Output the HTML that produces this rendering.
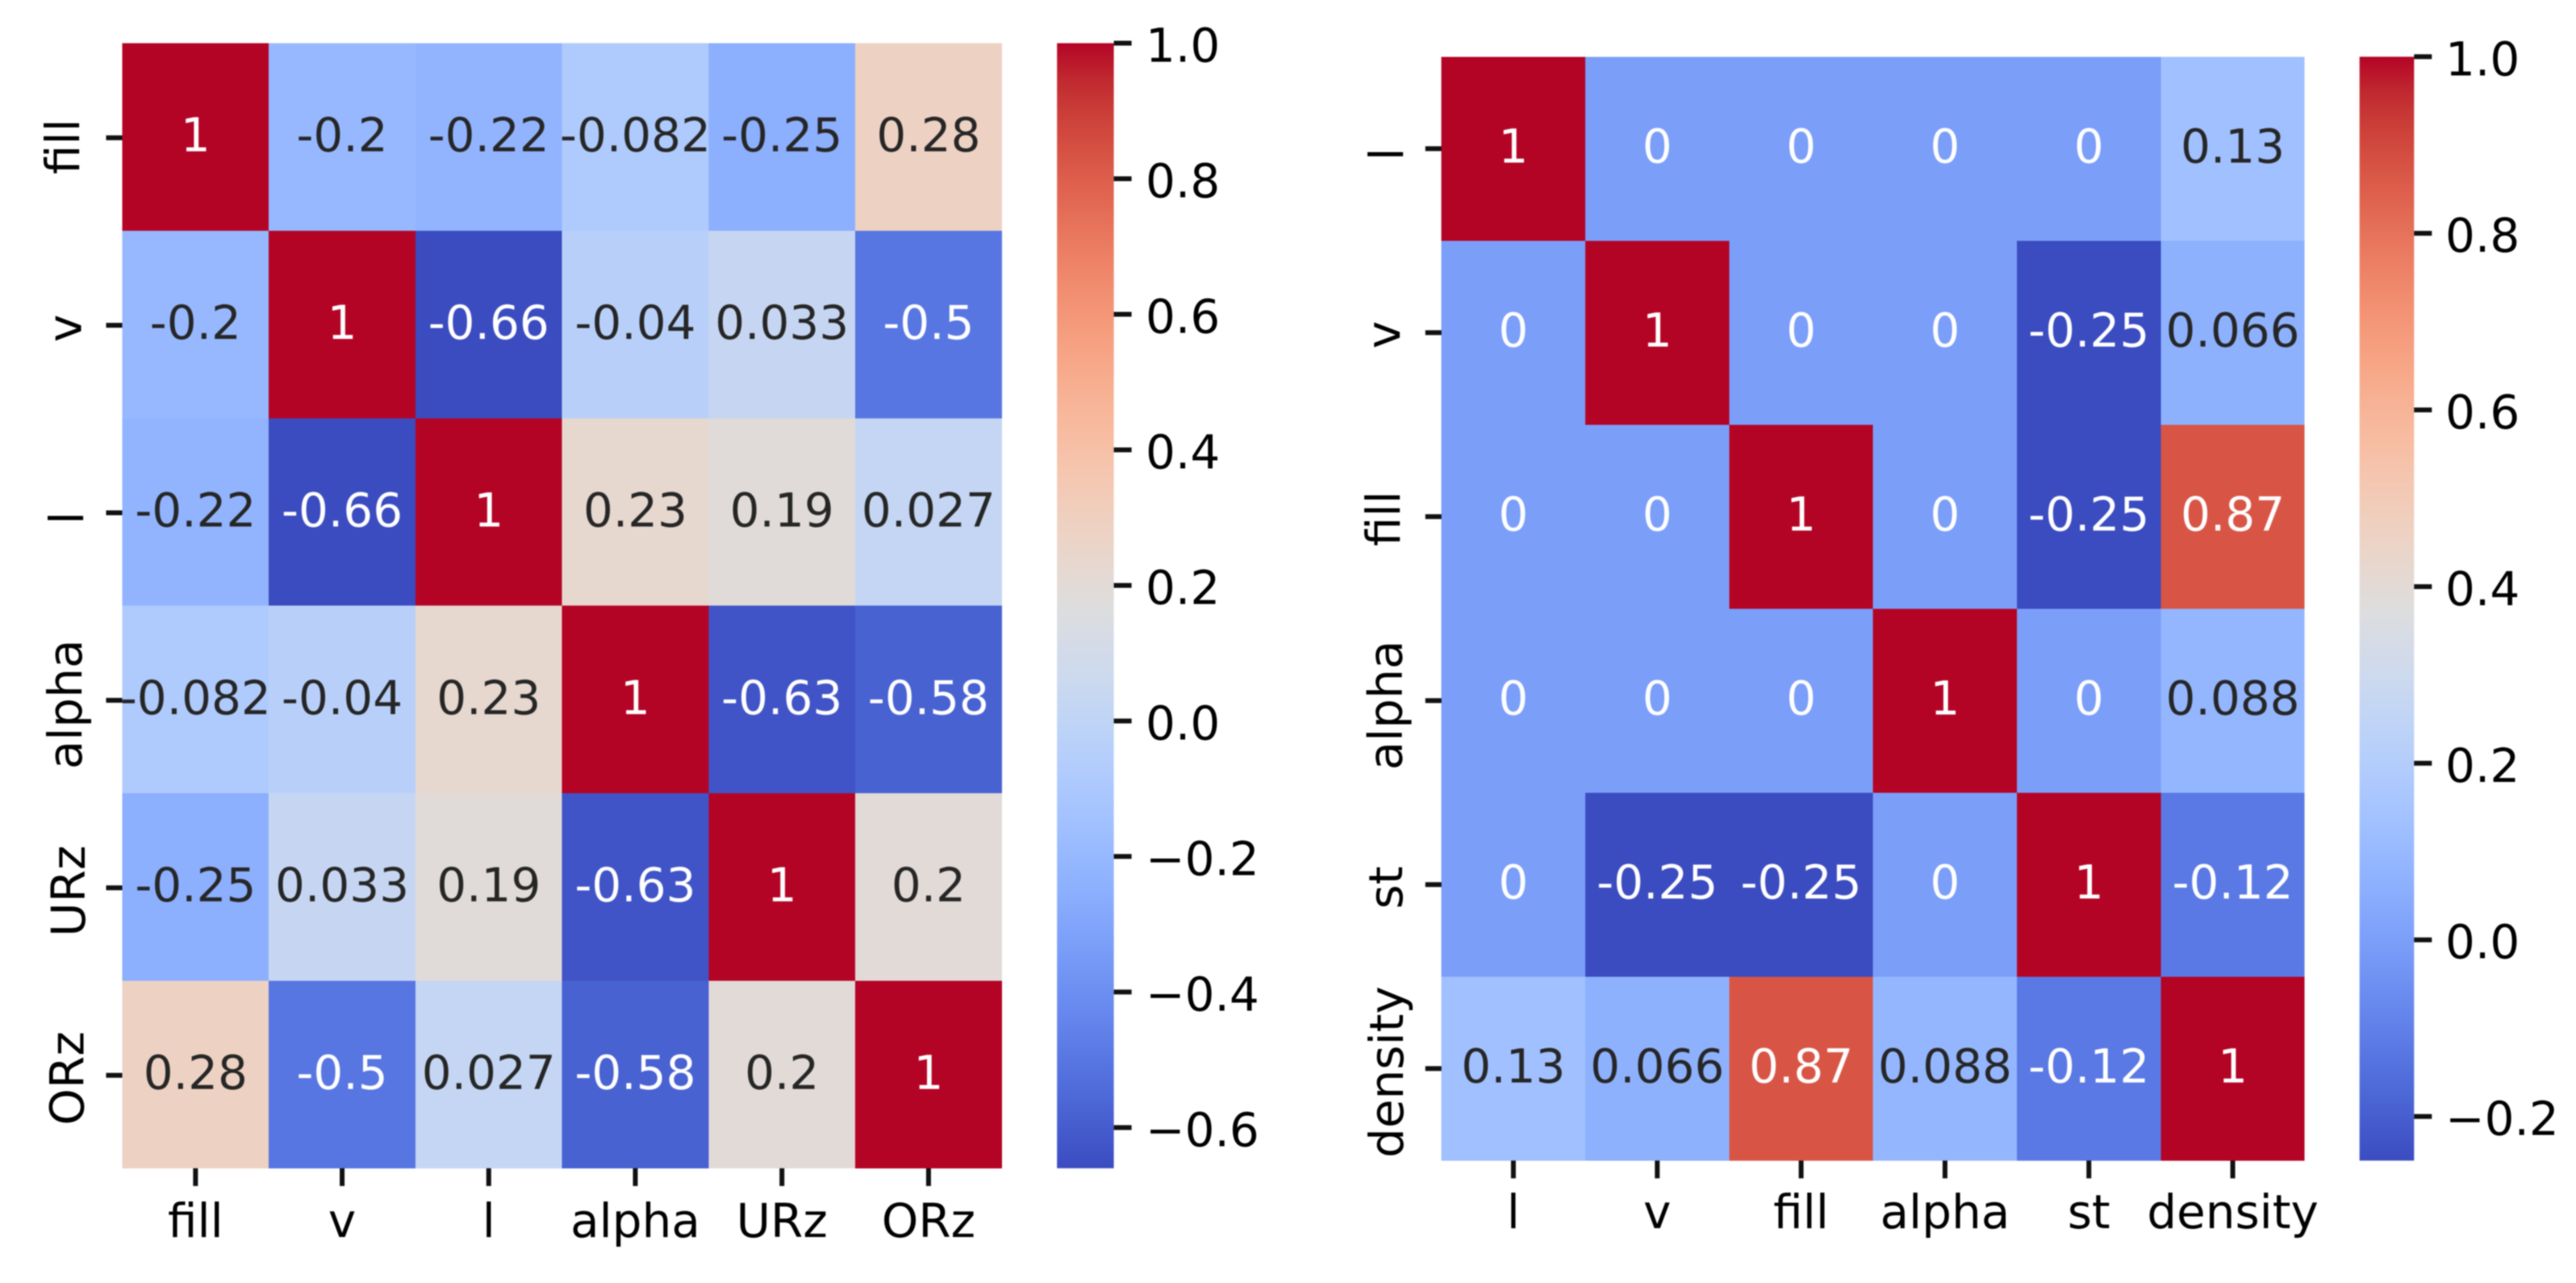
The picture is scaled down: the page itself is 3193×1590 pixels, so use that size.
<!DOCTYPE html>
<html lang="en">
<head>
<meta charset="utf-8">
<title>Correlation heatmaps</title>
<style>
html,body{margin:0;padding:0;background:#fff;width:3193px;height:1590px;overflow:hidden}
svg{display:block;filter:blur(0.8px)}
text{font-family:"DejaVu Sans","Liberation Sans",sans-serif;font-size:58px}
</style>
</head>
<body>
<svg id="figure" xmlns="http://www.w3.org/2000/svg" width="3193" height="1590" viewBox="0 0 3193 1590"></svg>
<script>
const leftLabels = ['fill', 'v', 'l', 'alpha', 'URz', 'ORz'];
const leftValues = [
  [1, -0.2, -0.22, -0.082, -0.25, 0.28],
  [-0.2, 1, -0.66, -0.04, 0.033, -0.5],
  [-0.22, -0.66, 1, 0.23, 0.19, 0.027],
  [-0.082, -0.04, 0.23, 1, -0.63, -0.58],
  [-0.25, 0.033, 0.19, -0.63, 1, 0.2],
  [0.28, -0.5, 0.027, -0.58, 0.2, 1]
];
const leftTicks = [1.0, 0.8, 0.6, 0.4, 0.2, 0.0, -0.2, -0.4, -0.6];

const rightLabels = ['l', 'v', 'fill', 'alpha', 'st', 'density'];
const rightValues = [
  [1, 0, 0, 0, 0, 0.13],
  [0, 1, 0, 0, -0.25, 0.066],
  [0, 0, 1, 0, -0.25, 0.87],
  [0, 0, 0, 1, 0, 0.088],
  [0, -0.25, -0.25, 0, 1, -0.12],
  [0.13, 0.066, 0.87, 0.088, -0.12, 1]
];
const rightTicks = [1.0, 0.8, 0.6, 0.4, 0.2, 0.0, -0.2];

const coolwarm = [
  [59,76,192],[68,90,204],[77,104,215],[87,117,225],[98,130,234],[108,142,241],[119,154,247],[130,165,251],
  [141,176,254],[152,185,255],[163,194,255],[174,201,253],[184,208,249],[194,213,244],[204,217,238],[213,219,230],
  [221,221,221],[229,216,209],[236,211,197],[241,204,185],[245,196,173],[247,187,160],[247,177,148],[247,166,135],
  [244,154,123],[241,141,111],[236,127,99],[229,112,88],[222,96,77],[213,80,66],[203,62,56],[192,40,47],[180,4,38]
];

const NS = 'http://www.w3.org/2000/svg';
const figure = document.getElementById('figure');

function colorAt(t) {
  const p = Math.max(0, Math.min(1, t)) * (coolwarm.length - 1);
  const i = Math.min(Math.floor(p), coolwarm.length - 2);
  const f = p - i;
  return coolwarm[i].map((c, k) => c + (coolwarm[i + 1][k] - c) * f);
}
function luminance(rgb) {
  const lin = rgb.map(c => { const v = c / 255; return v <= 0.03928 ? v / 12.92 : Math.pow((v + 0.055) / 1.055, 2.4); });
  return 0.2126 * lin[0] + 0.7152 * lin[1] + 0.0722 * lin[2];
}
function css(rgb) { return 'rgb(' + rgb.map(Math.round).join(',') + ')'; }
function make(tag, attrs, parent) {
  const el = document.createElementNS(NS, tag);
  for (const k in attrs) el.setAttribute(k, attrs[k]);
  parent.appendChild(el);
  return el;
}

function drawPanel(id, labels, values, ticks, box) {
  const group = make('g', {}, figure);
  
  

  const flat = values.flat();
  const vmin = Math.min.apply(null, flat);
  const vmax = Math.max.apply(null, flat);
  const n = labels.length;
  const cw = (box.right - box.left) / n;
  const ch = (box.bottom - box.top) / n;
  const xPos = i => box.left + cw * i;
  const yPos = i => box.top + ch * i;
  const norm = v => (v - vmin) / (vmax - vmin);
  const barY = v => box.top + (vmax - v) / (vmax - vmin) * (box.bottom - box.top);

  values.forEach((row, r) => {
    row.forEach((v, c) => {
      const rgb = colorAt(norm(v));
      const cell = make('rect', { x: xPos(c), y: yPos(r), width: cw, height: ch, fill: css(rgb), 'shape-rendering': 'crispEdges' }, group);
      
      
      const txt = make('text', { x: xPos(c) + cw / 2, y: yPos(r) + ch / 2 + box.annotDy, 'text-anchor': 'middle', fill: luminance(rgb) > 0.408 ? '#262626' : '#ffffff' }, group);
      txt.textContent = String(v);
      
      
    });
  });

  labels.forEach((name, i) => {
    const cx = xPos(i) + cw / 2;
    const cy = yPos(i) + ch / 2;
    const xt = make('line', { x1: cx, x2: cx, y1: box.bottom, y2: box.bottom + 22, stroke: '#111', 'stroke-width': 6 }, group);
    
    
    const xl = make('text', { x: cx, y: box.xLabelY, 'text-anchor': 'middle', fill: '#000' }, group);
    xl.textContent = name;
    
    
    const yt = make('line', { x1: box.left - 20, x2: box.left, y1: cy + box.yTickDy, y2: cy + box.yTickDy, stroke: '#111', 'stroke-width': 6 }, group);
    
    
    const lx = box.yLabelBaseline[i], ly = cy + box.yLabelShift[i];
    const yl = make('text', { x: lx, y: ly, 'text-anchor': 'middle', fill: '#000', transform: 'rotate(-90 ' + lx + ' ' + ly + ')' }, group);
    yl.textContent = name;
    
    
  });

  const defs = make('defs', {}, group);
  const grad = make('linearGradient', { id: id + '-gradient', x1: 0, y1: 1, x2: 0, y2: 0 }, defs);
  coolwarm.forEach((rgb, i) => {
    make('stop', { offset: i / (coolwarm.length - 1), 'stop-color': css(rgb) }, grad);
  });
  const bar = make('rect', { x: box.barLeft, y: box.top, width: box.barRight - box.barLeft, height: box.bottom - box.top, fill: 'url(#' + id + '-gradient)' }, group);
  
  

  ticks.forEach(t => {
    const y = barY(t);
    const tk = make('line', { x1: box.barRight, x2: box.barRight + 22, y1: y, y2: y, stroke: '#111', 'stroke-width': 6 }, group);
    
    
    const tl = make('text', { x: box.barTextX, y: y + 23, fill: '#000' }, group);
    tl.textContent = t.toFixed(1).replace('-', '\u2212');
    
    
  });
}

drawPanel('left', leftLabels, leftValues, leftTicks, {
  left: 151.5, right: 1241.8, top: 53.5, bottom: 1447.8,
  barLeft: 1310.2, barRight: 1380.6, barTextX: 1420,
  annotDy: 18, xLabelY: 1533, yTickDy: 1,
  yLabelBaseline: [98, 100.7, 103, 101, 105, 103.6],
  yLabelShift: [12, 4.8, 7.5, 6, 5, 4.8]
});
drawPanel('right', rightLabels, rightValues, rightTicks, {
  left: 1786.7, right: 2856.7, top: 70.3, bottom: 1438.3,
  barLeft: 2924.7, barRight: 2992.3, barTextX: 3031,
  annotDy: 17, xLabelY: 1522, yTickDy: 0,
  yLabelBaseline: [1739, 1735, 1735, 1737.7, 1738, 1739],
  yLabelShift: [6.7, 2.7, 2.4, 5.7, 3.7, 4.2]
});
</script>
</body>
</html>
